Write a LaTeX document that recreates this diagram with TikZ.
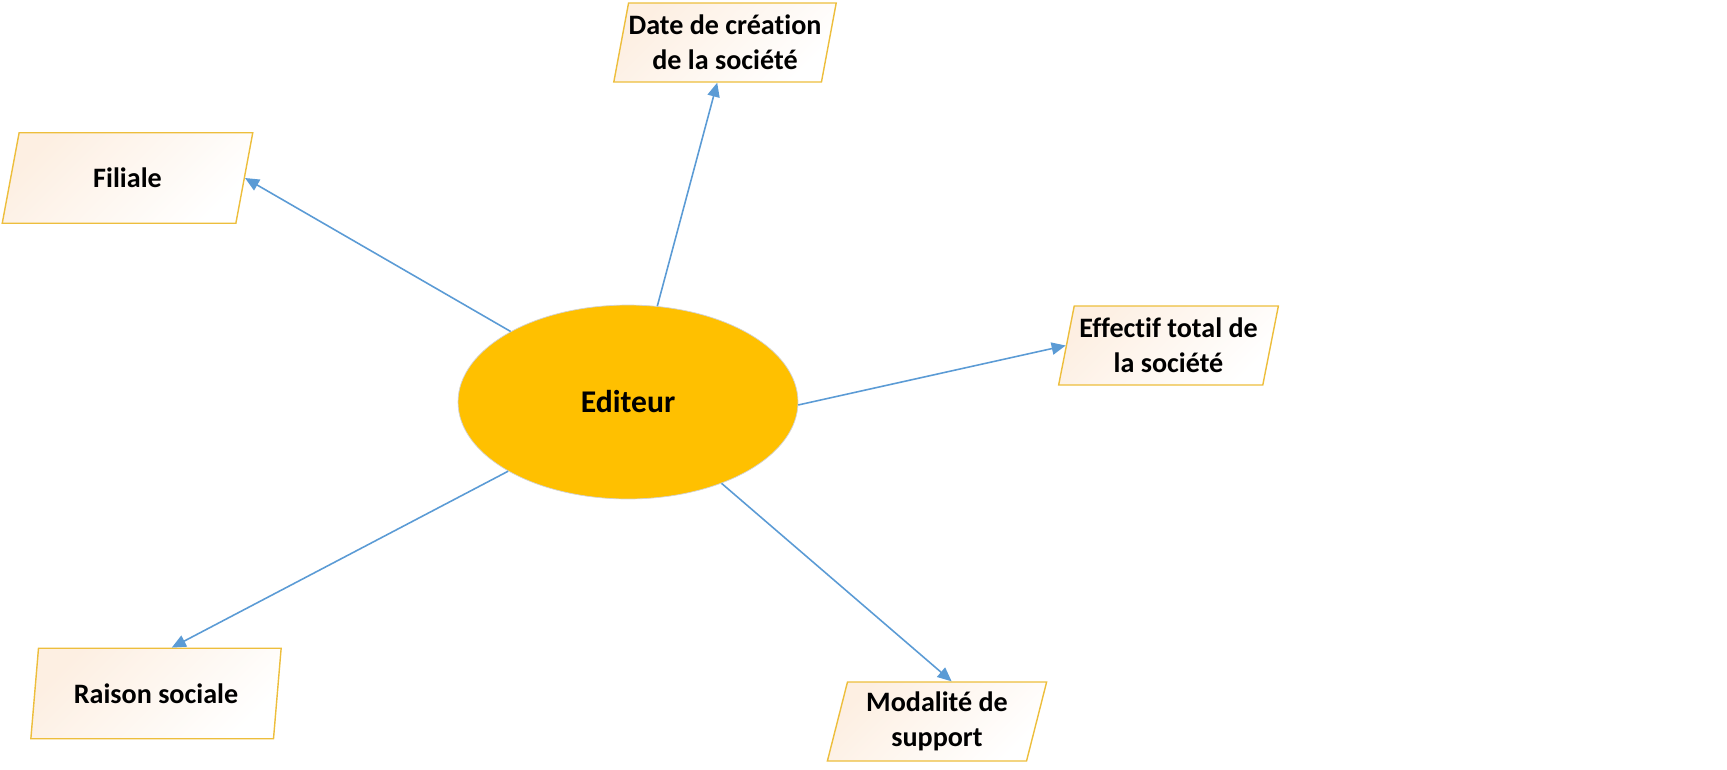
\documentclass[tikz,border=0pt]{standalone}
\usepackage{fontspec}
\setmainfont[Ligatures=NoCommon]{Carlito}
\usetikzlibrary{shapes.geometric,arrows.meta}

\definecolor{gold}{HTML}{FFC000}
\definecolor{boxline}{HTML}{EDBE3C}
\definecolor{peach}{HTML}{FDEFE2}
\definecolor{arrowblue}{HTML}{5B9BD5}

\begin{document}
\begin{tikzpicture}[x=0.02cm,y=-0.02cm]

\tikzstyle{edit}=[ellipse,fill=gold,draw=gray!35,line width=0.4pt,minimum width=6.8cm,minimum height=3.88cm,inner sep=0pt,font=\bfseries\fontsize{18}{21}\selectfont]
\tikzstyle{attr}=[trapezium,trapezium left angle=75,trapezium right angle=105,trapezium stretches=true,draw=boxline,line width=0.8pt,top color=peach,bottom color=white,shading angle=45,inner sep=0pt,align=center,font=\bfseries\fontsize{16}{20}\selectfont]
\tikzstyle{small}=[minimum width=4.4cm,minimum height=1.58cm]
\tikzstyle{big}=[minimum width=5.03cm,minimum height=1.81cm]
\tikzstyle{lien}=[arrowblue,line width=0.9pt,-{Triangle[length=8pt,width=7pt]}]

\useasboundingbox (0,0) rectangle (1727,769);

\node[edit] (ed) at (628,402) {Editeur};

\node[attr,big] (fil) at (127.5,178) {Filiale};
\node[attr,small] (date) at (725,42.5) {Date de création\\de la société};
\node[attr,small] (eff) at (1168.5,345.5) {Effectif total de\\la société};
\node[attr,big] (rai) at (156,693.5) {Raison sociale};
\node[attr,small] (mod) at (937,721.5) {Modalité de\\support};

\draw[lien] (ed.149) -- (fil.east);
\draw[lien] (ed.73) -- (date.259);
\draw[lien] (ed.-1) -- (eff.west);
\draw[lien] (ed.210) -- (rai.71);
\draw[lien] (ed.-41) -- (mod.70);

\end{tikzpicture}
\end{document}
